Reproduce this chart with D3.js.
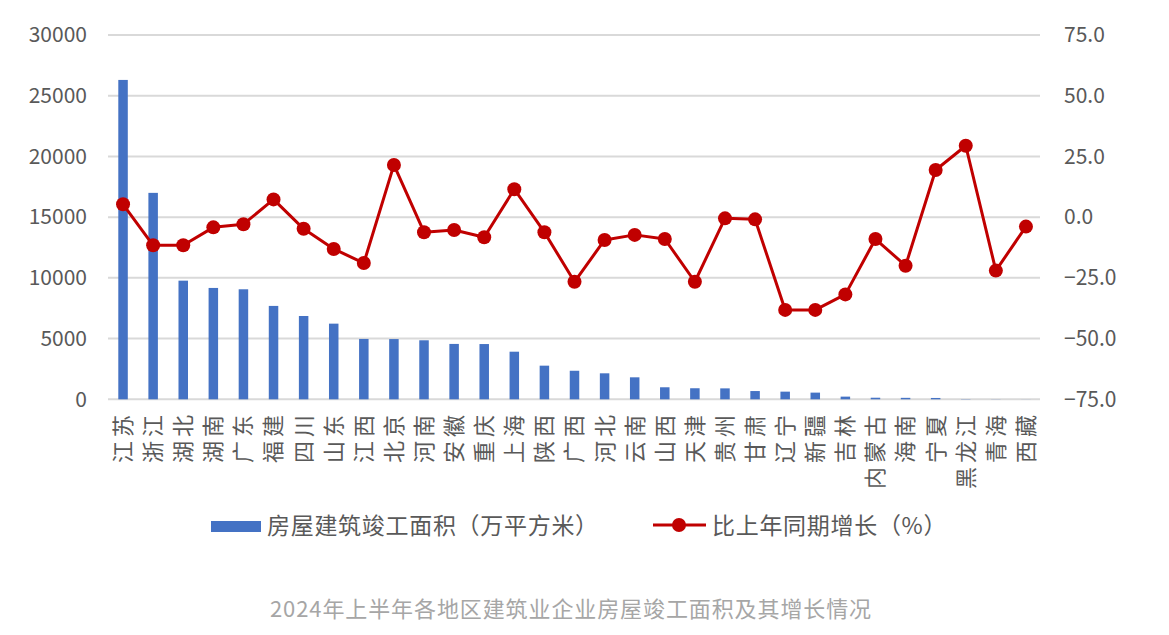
<!doctype html>
<html>
  <head>
    <meta charset="utf-8">
    <title>2024年上半年各地区建筑业企业房屋竣工面积及其增长情况</title>
    <script type="text/javascript" src="https://d3js.org/d3.v7.min.js"></script>
    <style>
      body { margin: 0; background: #fff; }
      text { font-family: "Noto Sans CJK SC", "Noto Sans", sans-serif; }
    </style>
  </head>
  <body>
    <script>
      // 地区
      const regions = ['江苏', '浙江', '湖北', '湖南', '广东', '福建', '四川', '山东', '江西', '北京',
        '河南', '安徽', '重庆', '上海', '陕西', '广西', '河北', '云南', '山西', '天津',
        '贵州', '甘肃', '辽宁', '新疆', '吉林', '内蒙古', '海南', '宁夏', '黑龙江', '青海', '西藏'];
      // 房屋建筑竣工面积（万平方米）
      const areaValues = [26300, 17000, 9770, 9170, 9060, 7690, 6860, 6230, 4970, 4960,
        4860, 4560, 4550, 3920, 2770, 2350, 2140, 1810, 990, 910,
        900, 680, 630, 550, 220, 130, 120, 110, 20, 10, 5];
      // 比上年同期增长（%）
      const growthValues = [5.3, -11.6, -11.6, -4.2, -2.9, 7.3, -4.8, -13.1, -18.9, 21.5,
        -6.2, -5.3, -8.3, 11.5, -6.2, -26.6, -9.4, -7.3, -9.0, -26.6,
        -0.5, -0.9, -38.2, -38.2, -31.8, -9.0, -20.0, 19.4, 29.4, -22.0, -3.9];

      const leftTicks = [0, 5000, 10000, 15000, 20000, 25000, 30000];
      const rightTicks = [-75, -50, -25, 0, 25, 50, 75];

      const barName = '房屋建筑竣工面积（万平方米）';
      const lineName = '比上年同期增长（%）';
      const title = '2024年上半年各地区建筑业企业房屋竣工面积及其增长情况';

      const width = 1169;
      const height = 635;
      const plot = { left: 108, right: 1041, top: 35, bottom: 399.3 };

      const svg = d3.select('body').append('svg')
          .attr('width', width)
          .attr('height', height);

      const x = d3.scaleBand()
          .domain(regions)
          .range([plot.left, plot.right]);

      const yLeft = d3.scaleLinear()
          .domain([0, 30000])
          .range([plot.bottom, plot.top]);

      const yRight = d3.scaleLinear()
          .domain([-75, 75])
          .range([plot.bottom, plot.top]);

      // 网格线
      svg.append('g')
        .selectAll('line')
        .data(leftTicks)
        .enter().append('line')
          .attr('x1', plot.left)
          .attr('x2', plot.right - 1)
          .attr('y1', d => yLeft(d))
          .attr('y2', d => yLeft(d))
          .attr('stroke', '#d9d9d9')
          .attr('stroke-width', 2);

      // 左轴
      const leftAxis = svg.append('g')
          .attr('transform', `translate(${plot.left - 21},0)`)
          .call(d3.axisLeft(yLeft).tickValues(leftTicks).tickSize(0).tickPadding(0).tickFormat(d3.format('d')));
      leftAxis.select('.domain').remove();
      leftAxis.selectAll('text')
          .attr('fill', '#595959')
          .style('font-size', '21px');

      // 右轴
      const rightAxis = svg.append('g')
          .attr('transform', `translate(${plot.right + 23},0)`)
          .call(d3.axisRight(yRight).tickValues(rightTicks).tickSize(0).tickPadding(0).tickFormat(d3.format('.1f')));
      rightAxis.select('.domain').remove();
      rightAxis.selectAll('text')
          .attr('fill', '#595959')
          .style('font-size', '21px');

      // 柱子
      const barW = 9.5;
      svg.append('g')
        .selectAll('rect')
        .data(areaValues)
        .enter().append('rect')
          .attr('x', (d, i) => x(regions[i]) + x.bandwidth() / 2 - barW / 2)
          .attr('y', d => yLeft(d))
          .attr('width', barW)
          .attr('height', d => yLeft(0) - yLeft(d))
          .attr('fill', '#4472c4');

      // 折线
      const line = d3.line()
          .x((d, i) => x(regions[i]) + x.bandwidth() / 2)
          .y(d => yRight(d));

      svg.append('path')
          .datum(growthValues)
          .attr('d', line)
          .attr('fill', 'none')
          .attr('stroke', '#c00000')
          .attr('stroke-width', 3)
          .attr('stroke-linejoin', 'round');

      svg.append('g')
        .selectAll('circle')
        .data(growthValues)
        .enter().append('circle')
          .attr('cx', (d, i) => x(regions[i]) + x.bandwidth() / 2)
          .attr('cy', d => yRight(d))
          .attr('r', 7)
          .attr('fill', '#c00000');

      // 类别标签（竖排）
      svg.append('g')
        .selectAll('text')
        .data(regions)
        .enter().append('text')
          .attr('transform', d => `translate(${x(d) + x.bandwidth() / 2},411) rotate(-90)`)
          .attr('text-anchor', 'end')
          .attr('dy', '0.36em')
          .attr('fill', '#595959')
          .style('font-size', '22px')
          .style('letter-spacing', '4px')
          .text(d => d);

      // 图例
      const legend = svg.append('g');
      legend.append('rect')
          .attr('x', 211).attr('y', 521)
          .attr('width', 50).attr('height', 11)
          .attr('fill', '#4472c4');
      legend.append('text')
          .attr('x', 267).attr('y', 526)
          .attr('dy', '0.36em')
          .attr('fill', '#595959')
          .style('font-size', '23px')
          .style('letter-spacing', '0.7px')
          .text(barName);

      legend.append('line')
          .attr('x1', 653).attr('x2', 706)
          .attr('y1', 525).attr('y2', 525)
          .attr('stroke', '#c00000')
          .attr('stroke-width', 3);
      legend.append('circle')
          .attr('cx', 679).attr('cy', 525)
          .attr('r', 7)
          .attr('fill', '#c00000');
      legend.append('text')
          .attr('x', 712).attr('y', 526)
          .attr('dy', '0.36em')
          .attr('fill', '#595959')
          .style('font-size', '23px')
          .style('letter-spacing', '0.7px')
          .text(lineName);

      // 标题
      svg.append('text')
          .attr('x', 571)
          .attr('y', 609)
          .attr('dy', '0.36em')
          .attr('text-anchor', 'middle')
          .attr('fill', '#a6a6a6')
          .style('font-size', '22px')
          .style('letter-spacing', '0.9px')
          .text(title);
    </script>
  </body>
</html>
